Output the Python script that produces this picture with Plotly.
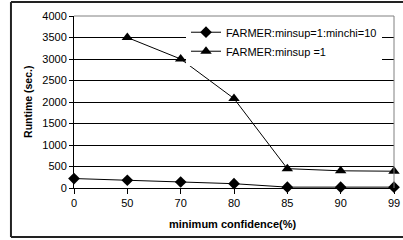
import plotly.graph_objects as go

categories = ["0", "50", "70", "80", "85", "90", "99"]
minchi_runtime = [220, 180, 140, 100, 20, 20, 20]
minsup_runtime = [None, 3500, 3000, 2080, 450, 400, 390]
y_ticks = [0, 500, 1000, 1500, 2000, 2500, 3000, 3500, 4000]

FONT = "Arial, Liberation Sans, sans-serif"

fig = go.Figure()
fig.add_trace(go.Scatter(
    x=categories, y=minchi_runtime, mode="lines+markers",
    name="FARMER:minsup=1:minchi=10",
    line=dict(color="black", width=1),
    marker=dict(symbol="diamond", size=9, color="black"),
    cliponaxis=False,
))
fig.add_trace(go.Scatter(
    x=categories, y=minsup_runtime, mode="lines+markers",
    name="FARMER:minsup =1",
    line=dict(color="black", width=1),
    marker=dict(symbol="triangle-up", size=10, color="black"),
    cliponaxis=False,
))

frame = dict(color="#222222", width=2)
fig.update_layout(
    width=403, height=240,
    margin=dict(l=74, r=9, t=16, b=52, autoexpand=False),
    paper_bgcolor="white", plot_bgcolor="white",
    font=dict(family=FONT, size=11, color="black"),
    showlegend=True,
    legend=dict(
        x=0.35, y=0.99, xanchor="left", yanchor="top",
        bgcolor="white", borderwidth=0,
        font=dict(family=FONT, size=11, color="black"),
        tracegroupgap=2, itemwidth=30,
    ),
    xaxis=dict(
        type="category", range=[0, 6], automargin=False,
        showline=True, linecolor="black", linewidth=1,
        ticks="outside", ticklen=5, tickcolor="black",
        showgrid=False, zeroline=False,
    ),
    yaxis=dict(
        range=[0, 4000], tickvals=y_ticks, automargin=False,
        showline=True, linecolor="black", linewidth=1,
        ticks="outside", ticklen=4, tickcolor="black",
        showgrid=True, gridcolor="black", gridwidth=1,
        zeroline=False,
    ),
    annotations=[
        dict(text="<b>minimum confidence(%)</b>", xref="paper", yref="paper",
             x=0.495, y=-0.209, xanchor="center", yanchor="middle",
             showarrow=False, font=dict(family=FONT, size=11)),
        dict(text="<b>Runtime (sec.)</b>", xref="paper", yref="paper",
             x=-0.144, y=0.5, xanchor="center", yanchor="middle", textangle=-90,
             showarrow=False, font=dict(family=FONT, size=10.5)),
    ],
    shapes=[
        dict(type="line", xref="paper", yref="paper", x0=1, x1=1, y0=0, y1=1,
             line=dict(color="#808080", width=1)),
        dict(type="line", xref="paper", yref="paper", x0=0, x1=1, y0=1, y1=1,
             line=dict(color="#808080", width=1)),
        dict(type="line", xref="paper", yref="paper", x0=-0.197, x1=-0.197,
             y0=-0.285, y1=1.081, line=frame),
        dict(type="line", xref="paper", yref="paper", x0=-0.197, x1=1.03,
             y0=1.081, y1=1.081, line=frame),
        dict(type="line", xref="paper", yref="paper", x0=-0.197, x1=1.03,
             y0=-0.285, y1=-0.285, line=frame),
    ],
)

fig.write_html("out.html", config={"displayModeBar": False},
               post_script="document.body.style.margin='0';document.body.style.padding='0';")
